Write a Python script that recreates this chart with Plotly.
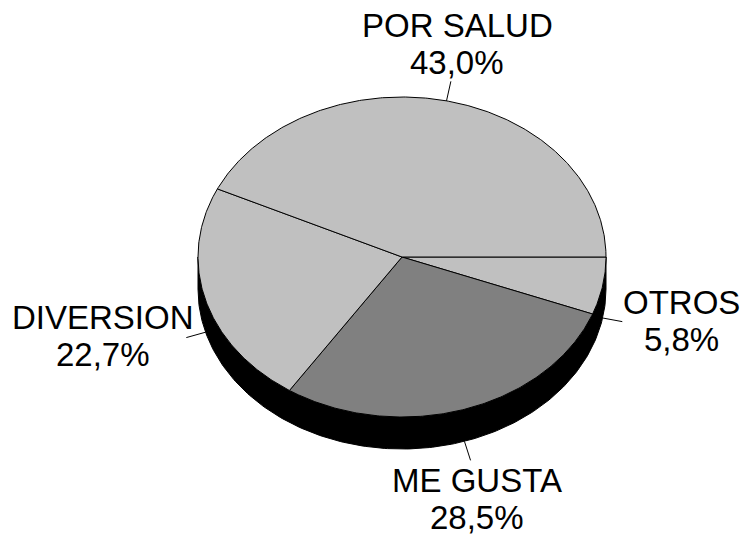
import numpy as np
import plotly.graph_objects as go

# ---- data ----
categories = ["OTROS", "ME GUSTA", "DIVERSION", "POR SALUD"]
values = [5.8, 28.5, 22.7, 43.0]
value_labels = ["5,8%", "28,5%", "22,7%", "43,0%"]

# ---- geometry / style ----
W, H = 744, 540
cx, cy, a, b, depth = 402, 257, 204, 160, 32
colors = {"OTROS": "#C0C0C0", "ME GUSTA": "#808080",
          "DIVERSION": "#C0C0C0", "POR SALUD": "#C0C0C0"}
FONT = "Liberation Sans, Arial, sans-serif"
FS = 33
# label centres (x, baseline of first line)
label_place = {"POR SALUD": (457, 36), "OTROS": (681, 313),
               "ME GUSTA": (477, 491), "DIVERSION": (103, 328)}
LINE_GAP = 37

def ell(t_deg, dy=0.0):
    t = np.radians(t_deg)
    return cx + a * np.cos(t), cy + b * np.sin(t) + dy

fig = go.Figure()

# side (front half, visible from t=0 to 180)
ts = np.linspace(0, 180, 200)
x1, y1 = ell(ts)
x2, y2 = ell(ts[::-1], depth)
fig.add_trace(go.Scatter(x=np.concatenate([x1, x2, x1[:1]]),
                         y=np.concatenate([y1, y2, y1[:1]]),
                         fill="toself", fillcolor="black", mode="lines",
                         line=dict(color="black", width=1), hoverinfo="skip"))

total = sum(values)
start = 0.0
mids = {}
for cat, v in zip(categories, values):
    span = 360.0 * v / total
    t = np.linspace(start, start + span, max(int(span * 2), 4))
    ex, ey = ell(t)
    xs = np.concatenate([[cx], ex, [cx]])
    ys = np.concatenate([[cy], ey, [cy]])
    fig.add_trace(go.Scatter(x=xs, y=ys, fill="toself", fillcolor=colors[cat],
                             mode="lines", line=dict(color="black", width=1),
                             hoverinfo="skip"))
    mids[cat] = start + span / 2
    start += span

# leader lines
for cat in categories:
    m = mids[cat] % 360
    dy = depth if 0 < m < 180 else 0
    x0, y0 = ell(m, dy)
    ux, uy = np.cos(np.radians(m)), np.sin(np.radians(m))
    fig.add_trace(go.Scatter(x=[x0, x0 + 20 * ux], y=[y0, y0 + 20 * uy],
                             mode="lines", line=dict(color="black", width=1),
                             hoverinfo="skip"))

for cat, vl in zip(categories, value_labels):
    lx, ly = label_place[cat]
    for i, txt in enumerate([cat, vl]):
        fig.add_annotation(x=lx, y=ly + i * LINE_GAP - 11, text=txt,
                           showarrow=False, xanchor="center", yanchor="middle",
                           font=dict(family=FONT, size=FS, color="black"))

fig.update_layout(width=W, height=H, margin=dict(l=0, r=0, t=0, b=0),
                  paper_bgcolor="white", plot_bgcolor="white", showlegend=False,
                  xaxis=dict(range=[0, W], visible=False, fixedrange=True),
                  yaxis=dict(range=[H, 0], visible=False, fixedrange=True))
fig.write_html("out.html", config={"displayModeBar": False},
               post_script="document.body.style.margin='0';document.body.style.overflow='hidden';")
